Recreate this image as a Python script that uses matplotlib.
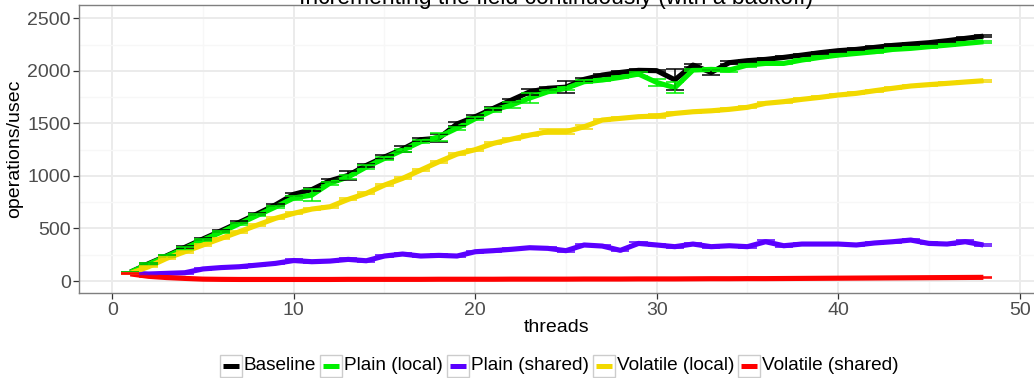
import matplotlib
matplotlib.use("Agg")
import matplotlib.pyplot as plt
from matplotlib.patches import Rectangle
from matplotlib.lines import Line2D

# ---------------- data ----------------
threads = list(range(1, 49))

baseline = [85, 165, 240, 320, 400, 478, 558, 640, 725, 825,
            870, 955, 1005, 1100, 1180, 1255, 1345, 1360, 1495, 1563,
            1643, 1722, 1800, 1834, 1845, 1919, 1960, 1985, 2005, 2002,
            1915, 2055, 1985, 2078, 2097, 2109, 2128, 2150, 2173, 2192,
            2204, 2223, 2242, 2255, 2268, 2287, 2309, 2330]
baseline_err = [5, 8, 10, 10, 10, 10, 10, 10, 12, 15,
                15, 15, 40, 15, 15, 30, 15, 35, 15, 15,
                15, 15, 30, 15, 60, 15, 10, 10, 10, 10,
                100, 15, 22, 12, 10, 10, 10, 10, 10, 10,
                10, 10, 10, 10, 10, 10, 10, 10]

plain_local = [85, 160, 235, 310, 390, 465, 545, 625, 705, 790,
               818, 932, 990, 1085, 1167, 1245, 1326, 1372, 1455, 1545,
               1627, 1675, 1741, 1801, 1834, 1897, 1913, 1938, 1970, 1890,
               1840, 2008, 2014, 2008, 2055, 2071, 2071, 2103, 2128, 2150,
               2166, 2182, 2204, 2214, 2230, 2245, 2261, 2277]
plain_local_err = [5, 8, 10, 10, 10, 10, 10, 10, 12, 15,
                   60, 15, 15, 15, 15, 15, 15, 35, 15, 15,
                   15, 30, 45, 15, 15, 15, 10, 10, 15, 30,
                   55, 10, 10, 22, 15, 10, 10, 10, 10, 10,
                   10, 10, 10, 10, 10, 10, 10, 8]

plain_shared = [75, 67, 73, 79, 115, 128, 136, 152, 168, 195,
                184, 190, 206, 193, 238, 257, 238, 244, 238, 279,
                289, 302, 317, 311, 289, 343, 333, 292, 358, 343,
                327, 352, 327, 336, 327, 374, 336, 352, 352, 352,
                343, 362, 374, 390, 358, 352, 374, 343]
plain_shared_err = [5, 6, 6, 8, 8, 8, 8, 8, 8, 10,
                    10, 10, 10, 10, 10, 10, 10, 10, 10, 10,
                    10, 10, 10, 10, 10, 10, 10, 10, 12, 10,
                    10, 10, 10, 10, 10, 12, 10, 10, 10, 10,
                    10, 10, 10, 12, 10, 10, 12, 8]

volatile_local = [73, 136, 216, 279, 343, 406, 469, 533, 597, 644,
                  685, 707, 777, 834, 913, 977, 1056, 1135, 1208, 1250,
                  1310, 1350, 1389, 1421, 1421, 1468, 1532, 1548, 1564, 1570,
                  1595, 1611, 1620, 1634, 1653, 1691, 1707, 1729, 1748, 1770,
                  1786, 1811, 1834, 1856, 1869, 1881, 1894, 1906]
volatile_local_err = [5, 6, 8, 8, 8, 8, 8, 8, 8, 10,
                      10, 10, 10, 10, 10, 10, 10, 10, 10, 10,
                      10, 10, 10, 25, 25, 18, 10, 10, 10, 18,
                      10, 10, 10, 10, 10, 10, 10, 10, 10, 10,
                      10, 10, 10, 10, 10, 10, 10, 8]

volatile_shared = [68, 45, 33, 25, 18, 16, 15, 15, 15, 15,
                   15, 15, 16, 16, 16, 16, 16, 17, 17, 17,
                   17, 18, 18, 18, 18, 19, 19, 19, 20, 20,
                   20, 21, 22, 22, 23, 23, 24, 25, 26, 27,
                   28, 29, 30, 31, 32, 33, 34, 35]
volatile_shared_err = [4, 4, 3, 3, 3, 3, 3, 3, 3, 3,
                       3, 3, 3, 3, 3, 3, 3, 3, 3, 3,
                       3, 3, 3, 3, 3, 3, 3, 3, 3, 3,
                       3, 3, 3, 3, 3, 3, 3, 3, 3, 3,
                       3, 3, 3, 3, 3, 3, 3, 3]

series_names = ["Baseline", "Plain (local)", "Plain (shared)",
                "Volatile (local)", "Volatile (shared)"]
series_values = [baseline, plain_local, plain_shared, volatile_local, volatile_shared]
series_errors = [baseline_err, plain_local_err, plain_shared_err,
                 volatile_local_err, volatile_shared_err]
series_colors = ["#000000", "#00F000", "#5A00FF", "#F2D900", "#FF0000"]

title = "Incrementing the field continuously (with a backoff)"
x_label = "threads"
y_label = "operations/usec"
x_ticks = [0, 10, 20, 30, 40, 50]
y_ticks = [0, 500, 1000, 1500, 2000, 2500]

# ---------------- figure ----------------
plt.rcParams['font.family'] = ['Liberation Sans', 'DejaVu Sans']
W, H = 1034, 378
fig = plt.figure(figsize=(W / 100, H / 100), dpi=100)
fig.patch.set_facecolor("white")

def fx(px):
    return px / W

def fy(py):
    return (H - py) / H

left_px, right_px, top_px, bot_px = 79, 1036, 5.3, 292.7
ax = fig.add_axes([fx(left_px), fy(bot_px), (right_px - left_px) / W, (bot_px - top_px) / H])
ax.set_xlim(-1.83, 50.9)
ax.set_ylim(-111, 2624)

# grid
ax.set_xticks(x_ticks)
ax.set_yticks(y_ticks)
ax.set_xticks([5, 15, 25, 35, 45], minor=True)
ax.set_yticks([250, 750, 1250, 1750, 2250], minor=True)
ax.grid(True, which="major", color="#EBEBEB", linewidth=1.4)
ax.grid(True, which="minor", color="#F7F7F7", linewidth=1.0)
ax.set_axisbelow(True)
ax.tick_params(which="minor", length=0)
ax.tick_params(which="major", length=4, width=0.9, color="#333333",
               labelsize=14, labelcolor="#4D4D4D")
ax.tick_params(axis="y", pad=2)
ax.tick_params(axis="x", pad=3)
for s in ax.spines.values():
    s.set_color("#7F7F7F")
    s.set_linewidth(1.0)

# lines
for vals, col in zip(series_values, series_colors):
    ax.plot(threads, vals, color=col, linewidth=3.7,
            solid_capstyle="butt", solid_joinstyle="round", zorder=2)

# error bars
for vals, errs, col in zip(series_values, series_errors, series_colors):
    lo = [v - e for v, e in zip(vals, errs)]
    hi = [v + e for v, e in zip(vals, errs)]
    xl = [t - 0.5 for t in threads]
    xr = [t + 0.5 for t in threads]
    ax.vlines(threads, lo, hi, color=col, linewidth=1.1, zorder=3)
    ax.hlines(lo, xl, xr, color=col, linewidth=1.1, zorder=3)
    ax.hlines(hi, xl, xr, color=col, linewidth=1.1, zorder=3)

# titles / labels
fig.text(fx(556), fy(4), title, ha="center", va="baseline", fontsize=16.5, color="black")
fig.text(fx(557), fy(328), x_label, ha="center", va="center", fontsize=14, color="black")
fig.text(fx(15), fy((top_px + bot_px) / 2), y_label, ha="center", va="center",
         rotation=90, fontsize=14, color="black")

# ---------------- legend (manual, ggplot-like keys) ----------------
renderer = fig.canvas.get_renderer()
key = 22
gap_after_key = 2
gap_after_text = 4
cy = 366
texts = []
widths = []
for name in series_names:
    t = fig.text(0, fy(cy), name, ha="left", va="center", fontsize=13.7, color="black")
    texts.append(t)
    widths.append(t.get_window_extent(renderer).width)
total = sum(key + gap_after_key + w for w in widths) + gap_after_text * (len(widths) - 1)
x = 559 - total / 2
for t, w, col in zip(texts, widths, series_colors):
    fig.patches.append(Rectangle((fx(x), fy(cy + key / 2)), key / W, key / H,
                                 transform=fig.transFigure, facecolor="white",
                                 edgecolor="#CCCCCC", linewidth=1.0))
    fig.lines.append(Line2D([fx(x + 3), fx(x + key - 3)], [fy(cy), fy(cy)],
                            transform=fig.transFigure, color=col, linewidth=3.6,
                            solid_capstyle="butt"))
    x += key + gap_after_key
    t.set_x(fx(x))
    x += w + gap_after_text

fig.savefig("out.png", dpi=100)
